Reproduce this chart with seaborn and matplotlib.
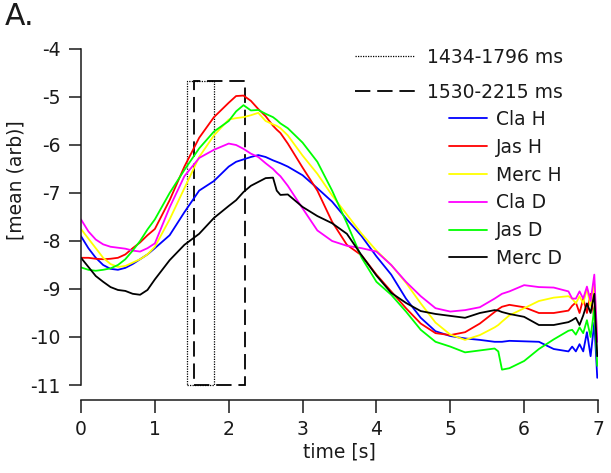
import matplotlib
matplotlib.use("Agg")
import matplotlib.pyplot as plt
from matplotlib.lines import Line2D
from matplotlib.patches import Rectangle
import seaborn as sns
import pandas as pd

# ---- data -------------------------------------------------------------
times = [0, 0.1, 0.2, 0.3, 0.4, 0.5, 0.6, 0.7, 0.8, 0.9,
         1.0, 1.2, 1.4, 1.6, 1.8,
         2.0, 2.1, 2.2, 2.3, 2.4, 2.5, 2.6, 2.65, 2.7, 2.8,
         3.0, 3.2, 3.4, 3.6, 3.8, 4.0, 4.2, 4.4, 4.6, 4.8,
         5.0, 5.2, 5.4, 5.6, 5.65, 5.7, 5.8,
         6.0, 6.2, 6.4, 6.6, 6.65, 6.7, 6.75, 6.8, 6.85, 6.9, 6.95, 6.99]

cla_h = [-7.9, -8.15, -8.35, -8.5, -8.58, -8.6, -8.56, -8.48, -8.38, -8.28,
         -8.15, -7.88, -7.4, -6.95, -6.75,
         -6.45, -6.35, -6.3, -6.25, -6.21, -6.25, -6.32, -6.35, -6.38, -6.45,
         -6.63, -6.9, -7.18, -7.55, -7.9, -8.32, -8.7, -9.2, -9.6, -9.88,
         -9.98, -10.03, -10.06, -10.1, -10.1, -10.1, -10.08,
         -10.09, -10.1, -10.25, -10.3, -10.2, -10.3, -10.15, -10.3, -9.9, -10.4, -9.7, -10.85]

jas_h = [-8.35, -8.35, -8.37, -8.38, -8.37, -8.35, -8.28, -8.15, -8.03, -7.88,
         -7.75, -7.15, -6.45, -5.85, -5.42,
         -5.12, -4.98, -4.97, -5.08, -5.25, -5.4, -5.6, -5.68, -5.75, -5.97,
         -6.47, -6.95, -7.6, -8.08, -8.3, -8.7, -9.05, -9.4, -9.72, -9.92,
         -9.96, -9.9, -9.72, -9.48, -9.42, -9.37, -9.33,
         -9.38, -9.5, -9.5, -9.45, -9.35, -9.28, -9.5, -9.2, -9.5, -9.1, -9.6, -10.05]

merc_h = [-7.75, -7.95, -8.15, -8.35, -8.48, -8.54, -8.52, -8.45, -8.38, -8.28,
          -8.12, -7.55, -6.9, -6.25, -5.8,
          -5.47, -5.44, -5.42, -5.38, -5.33, -5.5, -5.57, -5.6, -5.65, -5.8,
          -6.22, -6.6, -7.05, -7.45, -7.85, -8.2, -8.5, -8.87, -9.3, -9.7,
          -9.95, -10.06, -9.96, -9.8, -9.75, -9.68, -9.55,
          -9.4, -9.25, -9.18, -9.15, -9.2, -9.3, -9.15, -9.3, -9.0, -9.35, -8.9, -10.05]

cla_d = [-7.55, -7.8, -7.97, -8.07, -8.12, -8.14, -8.16, -8.2, -8.22, -8.15,
         -8.05, -7.3, -6.65, -6.27, -6.1,
         -5.97, -6.0, -6.08, -6.18, -6.25, -6.38, -6.5, -6.58, -6.65, -6.85,
         -7.32, -7.78, -8.0, -8.1, -8.15, -8.22, -8.5, -8.85, -9.15, -9.4,
         -9.47, -9.44, -9.38, -9.2, -9.15, -9.1, -9.05,
         -8.92, -8.96, -8.97, -9.05, -9.2, -9.2, -9.05, -9.2, -8.95, -9.25, -8.7, -10.1]

jas_d = [-8.55, -8.6, -8.62, -8.6, -8.57, -8.5, -8.38, -8.2, -8.0, -7.76,
         -7.55, -7.0, -6.52, -6.07, -5.72,
         -5.5, -5.3, -5.17, -5.28, -5.27, -5.35, -5.42, -5.48, -5.55, -5.65,
         -5.95, -6.35, -6.95, -7.63, -8.35, -8.85, -9.12, -9.47, -9.85, -10.1,
         -10.2, -10.32, -10.28, -10.24, -10.3, -10.68, -10.65,
         -10.5, -10.25, -10.05, -9.87, -9.85, -9.95, -9.8, -9.92, -9.65, -10.0, -9.4, -10.6]

merc_d = [-8.35, -8.54, -8.73, -8.85, -8.96, -9.02, -9.04, -9.1, -9.12, -9.02,
          -8.8, -8.4, -8.08, -7.85, -7.52,
          -7.27, -7.15, -6.98, -6.85, -6.77, -6.69, -6.68, -6.95, -7.04, -7.03,
          -7.29, -7.48, -7.63, -7.85, -8.3, -8.72, -9.08, -9.29, -9.46, -9.52,
          -9.56, -9.6, -9.5, -9.44, -9.45, -9.48, -9.52,
          -9.58, -9.75, -9.75, -9.69, -9.65, -9.6, -9.75, -9.55, -9.3, -9.5, -9.1, -10.4]

series_names = ["Cla H", "Jas H", "Merc H", "Cla D", "Jas D", "Merc D"]
series_values = [cla_h, jas_h, merc_h, cla_d, jas_d, merc_d]
series_colors = ["#0000ff", "#ff0000", "#ffff00", "#ff00ff", "#00ff00", "#000000"]

# analysis windows (s) and their upper edge
window_names = ["1434-1796 ms", "1530-2215 ms"]
window_spans = [(1.434, 1.796), (1.530, 2.215)]
window_top = -4.67

x_ticks = [0, 1, 2, 3, 4, 5, 6, 7]
y_ticks = [-11, -10, -9, -8, -7, -6, -5, -4]

# ---- style ------------------------------------------------------------
sns.set_theme(style="ticks")
plt.rcParams["font.family"] = ["DejaVu Sans"]
plt.rcParams["axes.unicode_minus"] = False

FS = 13.5
INK = "#1a1a1a"

df = pd.concat(
    [pd.DataFrame({"time": times, "mean": vals, "series": name})
     for name, vals in zip(series_names, series_values)],
    ignore_index=True)
palette = dict(zip(series_names, series_colors))

fig = plt.figure(figsize=(6.11, 4.73), dpi=100)
ax = fig.add_axes([81 / 611, 1 - 385 / 473, 517 / 611, 336 / 473])

sns.lineplot(data=df, x="time", y="mean", hue="series", palette=palette,
             hue_order=series_names, estimator=None, sort=False,
             linewidth=1.3, legend=False, ax=ax)

# analysis windows
win_styles = [dict(linestyle=(0, (1, 1)), linewidth=0.9),
              dict(linestyle=(0, (8.5, 3.8)), linewidth=1.3)]
for (t0, t1), st in zip(window_spans, win_styles):
    ax.add_patch(Rectangle((t0, y_ticks[0]), t1 - t0, window_top - y_ticks[0],
                           fill=False, edgecolor="black", clip_on=False, **st))

ax.set_xlim(0, 7)
ax.set_ylim(-11, -4)
ax.set_xticks(x_ticks)
ax.set_yticks(y_ticks)
ax.set_xticklabels([str(v) for v in x_ticks])
ax.set_yticklabels([str(v) for v in y_ticks])

for side in ("top", "right"):
    ax.spines[side].set_visible(False)
ax.spines["bottom"].set_position(("outward", 11))
for side in ("left", "bottom"):
    ax.spines[side].set_linewidth(1.1)
    ax.spines[side].set_color(INK)
ax.tick_params(axis="both", direction="out", length=9, width=1.1,
               color=INK, labelsize=FS, labelcolor=INK)
ax.tick_params(axis="y", pad=5.5)
ax.tick_params(axis="x", pad=5)

ax.set_xlabel("time [s]", fontsize=FS, color=INK, labelpad=3)
ax.set_ylabel("[mean (arb)]", fontsize=FS, color=INK)
ax.yaxis.set_label_coords(-0.108, 0.61)

fig.text(0.008, 0.995, "A.", fontsize=21.5, va="top", ha="left", color=INK)

# legends
win_handles = [Line2D([], [], color="black", **st) for st in win_styles]
leg1 = fig.legend(win_handles, window_names, loc="upper left",
                  bbox_to_anchor=(355 / 611, 1 - 48 / 473), frameon=False,
                  fontsize=FS, handlelength=3.2, handletextpad=0.64,
                  labelspacing=0.84, borderpad=0, borderaxespad=0)
for t in leg1.get_texts():
    t.set_color(INK)

ser_handles = [Line2D([], [], color=c, linewidth=1.3) for c in series_colors]
leg2 = fig.legend(ser_handles, series_names, loc="upper left",
                  bbox_to_anchor=(449 / 611, 1 - 110 / 473), frameon=False,
                  fontsize=FS, handlelength=2.03, handletextpad=0.48,
                  labelspacing=0.47, borderpad=0, borderaxespad=0)
for t in leg2.get_texts():
    t.set_color(INK)

fig.savefig("out.png", dpi=100)
